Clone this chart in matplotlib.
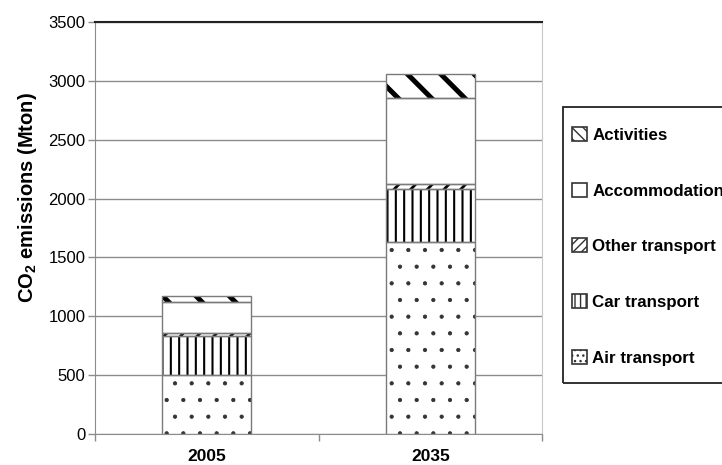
import numpy as np
import matplotlib.pyplot as plt
import matplotlib.patches as mpatches

plt.rcParams["font.family"] = "Liberation Sans"
plt.rcParams["mathtext.fontset"] = "custom"
plt.rcParams["mathtext.rm"] = "Liberation Sans"
plt.rcParams["mathtext.bf"] = "Liberation Sans:bold"

years = ['2005', '2035']
sectors = ['Air transport', 'Car transport', 'Other transport', 'Accommodation', 'Activities']
air = [500, 1630]
car = [330, 450]
other = [25, 45]
accommodation = [270, 730]
activities = [50, 200]

series = [air, car, other, accommodation, activities]
hatches = ['.', '||', '//', '', '\\']
key_hatches = ['...', '|||', '////', '', '\\\\\\']
hatch_lw = [0.6, 1.5, 2.0, 1.0, 3.6]
key_lw = [0.5, 1.0, 1.2, 1.0, 1.6]
hatch_col = ['#333333', 'black', 'black', 'black', 'black']

fig = plt.figure(figsize=(7.22, 4.65), dpi=100)
ax = fig.add_axes([95 / 722, 31 / 465, 447 / 722, 412 / 465])

x = np.arange(len(years))
width = 0.4
bottom = np.zeros(len(years))
handles = []
for vals, label, h, kh, lw, klw, hc in zip(series, sectors, hatches, key_hatches,
                                          hatch_lw, key_lw, hatch_col):
    with plt.rc_context({'hatch.linewidth': lw}):
        ax.bar(x, vals, width, bottom=bottom, color='white', hatch=h,
               edgecolor=hc, linewidth=0, zorder=3)
    with plt.rc_context({'hatch.linewidth': klw}):
        handles.append(mpatches.Patch(facecolor='white', edgecolor='#333333',
                                      hatch=kh, linewidth=1.2, label=label))
    # grey outline drawn on top of the hatched fill
    ax.bar(x, vals, width, bottom=bottom, fill=False, edgecolor='#7a7a7a',
           linewidth=1.0, zorder=4)
    bottom = bottom + np.array(vals)

ax.set_xlim(-0.5, 1.5)
ax.set_ylim(0, 3500)
ax.set_yticks(np.arange(0, 3501, 500))
ax.yaxis.grid(True, color='#8c8c8c', linewidth=1.0, zorder=0)
ax.set_axisbelow(True)

ax.set_xticks(x)
ax.set_xticklabels(years, fontsize=12.5, fontweight='bold')
ax.set_xticks([-0.5, 0.5, 1.5], minor=True)
ax.tick_params(axis='x', which='major', length=0, pad=11)
ax.tick_params(axis='x', which='minor', length=5, width=1, color='#8c8c8c', direction='out')
ax.tick_params(axis='y', length=5, width=1, color='#8c8c8c', labelsize=12, pad=2)

for side in ['left', 'bottom']:
    ax.spines[side].set_color('#8c8c8c')
ax.spines['right'].set_color('#c8c8c8')
ax.spines['top'].set_color('#222222')
ax.spines['top'].set_linewidth(1.5)

ax.set_ylabel(r'CO$_\mathbf{2}$ emissions (Mton)', fontsize=14.5, fontweight='bold')
ax.yaxis.set_label_coords(-0.126, 0.573)

# legend box runs past the right edge of the figure
frame = mpatches.Rectangle((563 / 722, 82 / 465), 200 / 722, 276 / 465,
                           transform=fig.transFigure, fill=False,
                           edgecolor='#222222', linewidth=1.3)
fig.patches.append(frame)

leg = fig.legend(handles[::-1], [h.get_label() for h in handles[::-1]],
                 loc='upper left', bbox_to_anchor=(572 / 722, 1 - 127 / 465),
                 borderaxespad=0, borderpad=0, frameon=False,
                 prop={'weight': 'bold', 'size': 12.2}, handlelength=0.9,
                 handleheight=0.9, handletextpad=0.3, labelspacing=2.35)

fig.savefig('out.png', dpi=100)
